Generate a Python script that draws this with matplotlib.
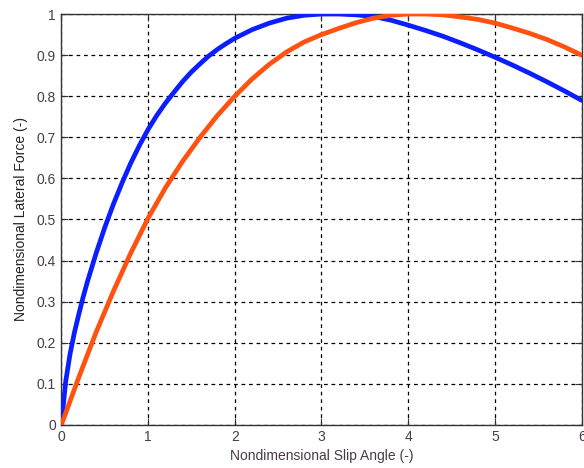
import numpy as np
import matplotlib
matplotlib.use('Agg')
import matplotlib.pyplot as plt

plt.rcParams['font.family'] = ['Liberation Sans', 'DejaVu Sans']

# Blue curve
blue_x = [0.0, 0.05, 0.1, 0.15, 0.2, 0.25, 0.3, 0.4, 0.5, 0.6, 0.7, 0.8, 0.9,
          1.0, 1.1, 1.2, 1.3, 1.4, 1.5, 1.6, 1.7, 1.8, 1.9, 2.0, 2.2, 2.4,
          2.6, 2.8, 3.0, 3.2, 3.4, 3.6, 3.8, 4.0, 4.2, 4.4, 4.6, 4.8, 5.0,
          5.2, 5.4, 5.6, 5.8, 6.0]
blue_y = [0.0, 0.105, 0.172, 0.224, 0.268, 0.31, 0.348, 0.417, 0.48, 0.537,
          0.589, 0.637, 0.68, 0.719, 0.753, 0.783, 0.81, 0.836, 0.859,
          0.879, 0.898, 0.914, 0.928, 0.941, 0.962, 0.978, 0.99, 0.997,
          1.0, 1.0, 0.998, 0.994, 0.985, 0.973, 0.96, 0.946, 0.93, 0.913,
          0.895, 0.876, 0.856, 0.835, 0.813, 0.79]

# Orange curve
orange_x = [0.0, 0.2, 0.4, 0.6, 0.8, 1.0, 1.2, 1.4, 1.6, 1.8, 2.0, 2.2, 2.4,
            2.6, 2.8, 3.0, 3.2, 3.4, 3.6, 3.8, 4.0, 4.2, 4.4, 4.6, 4.8, 5.0,
            5.2, 5.4, 5.6, 5.8, 6.0]
orange_y = [0.0, 0.115, 0.225, 0.325, 0.418, 0.503, 0.577, 0.642, 0.70,
            0.753, 0.80, 0.842, 0.878, 0.908, 0.932, 0.95, 0.965, 0.979,
            0.99, 0.997, 1.0, 1.0, 0.998, 0.993, 0.987, 0.978, 0.966,
            0.953, 0.938, 0.92, 0.90]

x_ticks = [0, 1, 2, 3, 4, 5, 6]
y_ticks = [0, 0.1, 0.2, 0.3, 0.4, 0.5, 0.6, 0.7, 0.8, 0.9, 1]
y_tick_labels = ['0', '0.1', '0.2', '0.3', '0.4', '0.5', '0.6', '0.7', '0.8', '0.9', '1']

fig = plt.figure(figsize=(5.84, 4.68), dpi=100)
ax = fig.add_axes([0.105, 0.092, 0.891, 0.878])

ax.plot(blue_x, blue_y, '-', color='#0a1eff', linewidth=3.4, solid_capstyle='round', zorder=3)
ax.plot(orange_x, orange_y, '-', color='#ff5210', linewidth=3.4, solid_capstyle='round', zorder=3)

ax.set_xlim(0, 6)
ax.set_ylim(0, 1)
ax.set_xticks(x_ticks)
ax.set_yticks(y_ticks)
ax.set_yticklabels(y_tick_labels)

ax.grid(True, color='black', linestyle=(0, (3, 3)), linewidth=0.9)
ax.tick_params(direction='in', length=5, width=0.8, top=True, right=True,
               labelsize=10, colors='#333333', pad=4)
ax.tick_params(axis='both', labelcolor='#4a3a4a')
for s in ax.spines.values():
    s.set_color('#333333')
    s.set_linewidth(1.0)

ax.set_xlabel('Nondimensional Slip Angle (-)', fontsize=10, color='#4a3a4a', labelpad=3)
ax.set_ylabel('Nondimensional Lateral Force (-)', fontsize=10, color='#222222', labelpad=6)

fig.savefig('out.png', dpi=100, facecolor='white')
